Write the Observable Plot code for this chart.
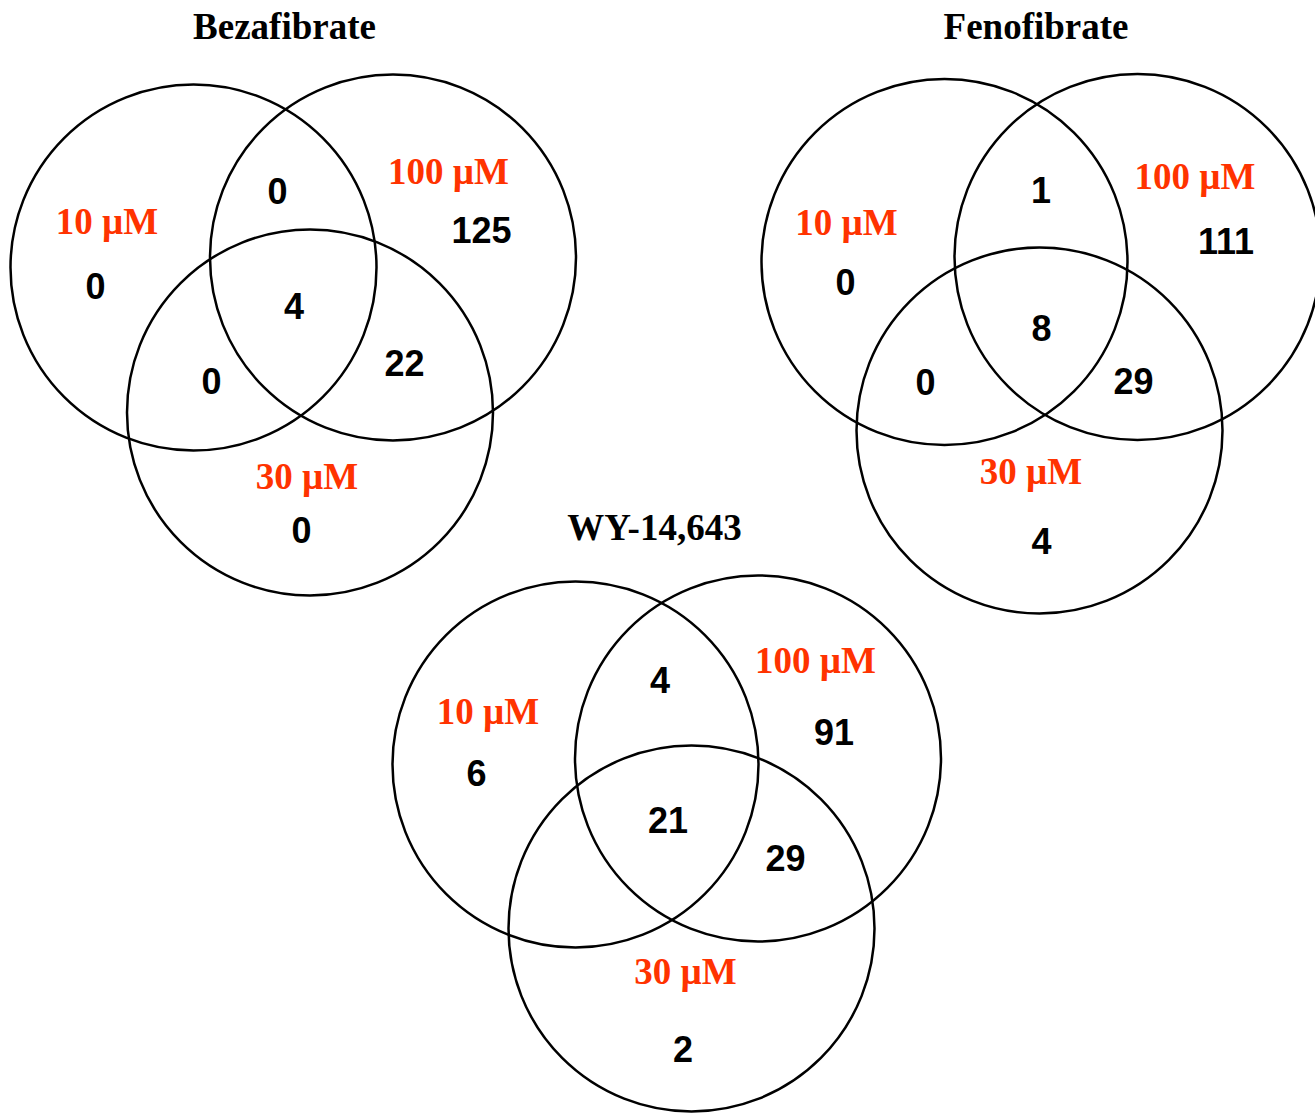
<!DOCTYPE html>
<html>
<head>
<meta charset="utf-8">
<script src="https://cdn.jsdelivr.net/npm/d3@7"></script>
<script src="https://cdn.jsdelivr.net/npm/@observablehq/plot@0.6"></script>
<style>
  html, body { margin: 0; padding: 0; background: #fff; }
  #chart svg { display: block; background: #fff; }
</style>
</head>
<body>
<div id="chart"></div>
<script>
// ---- data ----
const diagramTitles = ["Bezafibrate", "Fenofibrate", "WY-14,643"];
const setLabels = ["10 µM", "100 µM", "30 µM"];
// regions: 10 only, 10∩100, 100 only, all three, 10∩30, 100∩30, 30 only
const regionKeys = ["10", "10+100", "100", "10+100+30", "10+30", "100+30", "30"];
const bezafibrateCounts = [0, 0, 125, 4, 0, 22, 0];
const fenofibrateCounts = [0, 1, 111, 8, 0, 29, 4];
const wy14643Counts = [6, 4, 91, 21, null, 29, 2];
const allCounts = [bezafibrateCounts, fenofibrateCounts, wy14643Counts];

// ---- layout (page coordinates of the drawing) ----
const layouts = [
  {
    title: [284, 26.5],
    circles: [[193, 267], [392.5, 257], [309.5, 412]],
    setPos: [[106.5, 221.5], [448, 171.5], [306.5, 477]],
    regionPos: [[95, 286.5], [277, 191.5], [481, 231], [293.5, 306.5], [211, 382], [404, 364], [301, 530.5]]
  },
  {
    title: [1035.5, 27],
    circles: [[944, 261.5], [1137, 256.5], [1039, 430]],
    setPos: [[846, 222.5], [1194.5, 177], [1030.5, 471.5]],
    regionPos: [[845, 282.5], [1040.5, 191], [1225.5, 242], [1041, 329], [925, 382.5], [1133, 382], [1041, 542]]
  },
  {
    title: [654, 528],
    circles: [[575, 764], [757.5, 758], [691, 928]],
    setPos: [[487.5, 712], [815, 661], [685, 972]],
    regionPos: [[476, 774], [659.4, 681], [833.5, 732.5], [667.6, 821], [590, 880], [785, 859], [682.6, 1050]]
  }
];
const circleRadius = 183;

// ---- build tables ----
const circles = layouts.flatMap((L, d) => L.circles.map(([x, y], i) => ({diagram: diagramTitles[d], set: setLabels[i], x, y, r: circleRadius})));
const titles = layouts.map((L, d) => ({text: diagramTitles[d], x: L.title[0], y: L.title[1]}));
const setTexts = layouts.flatMap((L, d) => L.setPos.map(([x, y], i) => ({text: setLabels[i], x, y})));
const regionTexts = layouts.flatMap((L, d) => L.regionPos.map(([x, y], i) => ({key: regionKeys[i], value: allCounts[d][i], x, y})))
  .filter(t => t.value != null);

const chart = Plot.plot({
  width: 1315,
  height: 1113,
  margin: 0,
  x: {domain: [0, 1315], range: [0, 1315], axis: null},
  y: {domain: [0, 1113], range: [0, 1113], axis: null},
  r: {type: "identity"},
  marks: [
    Plot.dot(circles, {x: "x", y: "y", r: "r", fill: "none", stroke: "#000", strokeWidth: 2.5}),
    Plot.text(titles, {x: "x", y: "y", text: "text", fontFamily: "Liberation Serif", fontWeight: "bold", fontSize: 37, fill: "#000", lineAnchor: "middle"}),
    Plot.text(setTexts, {x: "x", y: "y", text: "text", fontFamily: "Liberation Serif", fontWeight: "bold", fontSize: 37, fill: "#ff3300", lineAnchor: "middle"}),
    Plot.text(regionTexts, {x: "x", y: "y", text: d => String(d.value), fontFamily: "Liberation Sans", fontWeight: "bold", fontSize: 36, fill: "#000", lineAnchor: "middle"})
  ]
});
document.getElementById("chart").appendChild(chart);
</script>
</body>
</html>
